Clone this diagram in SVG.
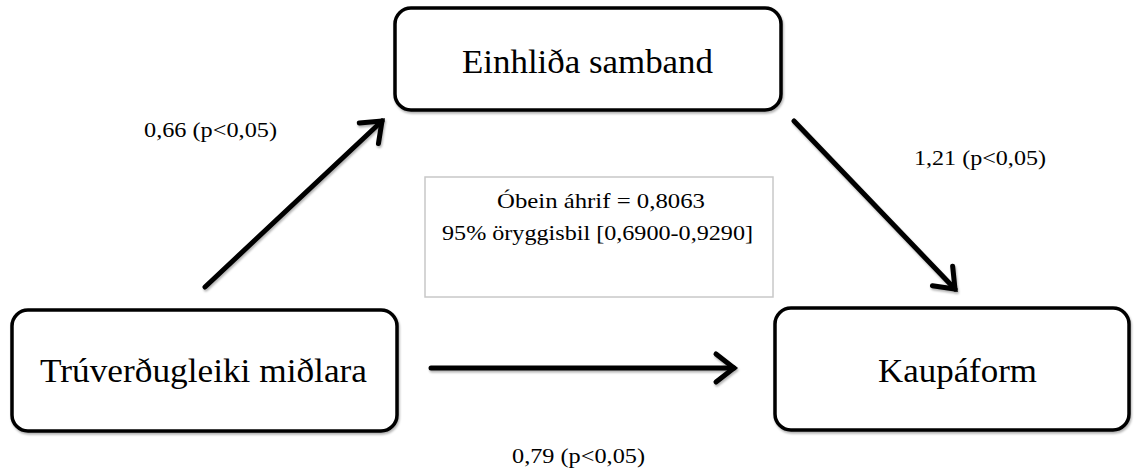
<svg xmlns="http://www.w3.org/2000/svg" width="1137" height="473" viewBox="0 0 1137 473">
<defs>
<style>
.box{fill:#fff;stroke:#000;stroke-width:3.5}
.info{fill:#fff;stroke:#c8c8c8;stroke-width:1.5}
.t{font-family:"Liberation Serif","DejaVu Serif",serif;fill:#000}
.big{font-size:33px}
.sm{font-size:21px}
.arrow{stroke:#000;stroke-width:5;fill:none;stroke-linecap:round}
</style>
<marker id="ah" markerUnits="userSpaceOnUse" markerWidth="30" markerHeight="30" refX="2" refY="15" orient="auto" viewBox="0 0 30 30" overflow="visible">
<path d="M-16,1 L2,15 L-16,29" fill="none" stroke="#000" stroke-width="5" stroke-linecap="round" stroke-linejoin="miter"/>
</marker>
<filter id="sh" x="-10%" y="-10%" width="120%" height="130%">
<feDropShadow dx="1" dy="2" stdDeviation="1.2" flood-color="#000" flood-opacity="0.3"/>
</filter>
</defs>
<rect width="1137" height="473" fill="#fff"/>
<g id="node-info">
<rect class="info" x="425" y="177" width="348" height="120"/>
<text class="t sm" x="497" y="208" textLength="208" lengthAdjust="spacingAndGlyphs">Óbein áhrif = 0,8063</text>
<text class="t sm" x="442" y="240" textLength="311" lengthAdjust="spacingAndGlyphs">95% öryggisbil  [0,6900-0,9290]</text>
</g>
<g id="node-einhlida">
<rect class="box" x="395" y="8" width="386" height="102" rx="16" filter="url(#sh)"/>
<text class="t big" x="462" y="73" textLength="251" lengthAdjust="spacingAndGlyphs">Einhliða samband</text>
</g>
<g id="node-truverdugleiki">
<rect class="box" x="12" y="310" width="385" height="121" rx="16" filter="url(#sh)"/>
<text class="t big" x="40" y="382" textLength="327" lengthAdjust="spacingAndGlyphs">Trúverðugleiki miðlara</text>
</g>
<g id="node-kaupaform">
<rect class="box" x="775" y="308" width="354" height="122" rx="16" filter="url(#sh)"/>
<text class="t big" x="878" y="382" textLength="159" lengthAdjust="spacingAndGlyphs">Kaupáform</text>
</g>
<g id="connectors" filter="url(#sh)">
<line class="arrow" x1="205" y1="287" x2="382" y2="121" marker-end="url(#ah)"/>
<line class="arrow" x1="794" y1="121" x2="955" y2="289" marker-end="url(#ah)"/>
<line class="arrow" x1="431" y1="368" x2="734" y2="368" marker-end="url(#ah)"/>
</g>
<g id="labels">
<text class="t sm" x="144" y="137" textLength="133" lengthAdjust="spacingAndGlyphs">0,66 (p&lt;0,05)</text>
<text class="t sm" x="914" y="165" textLength="132" lengthAdjust="spacingAndGlyphs">1,21 (p&lt;0,05)</text>
<text class="t sm" x="512" y="463" textLength="133" lengthAdjust="spacingAndGlyphs">0,79 (p&lt;0,05)</text>
</g>
</svg>
